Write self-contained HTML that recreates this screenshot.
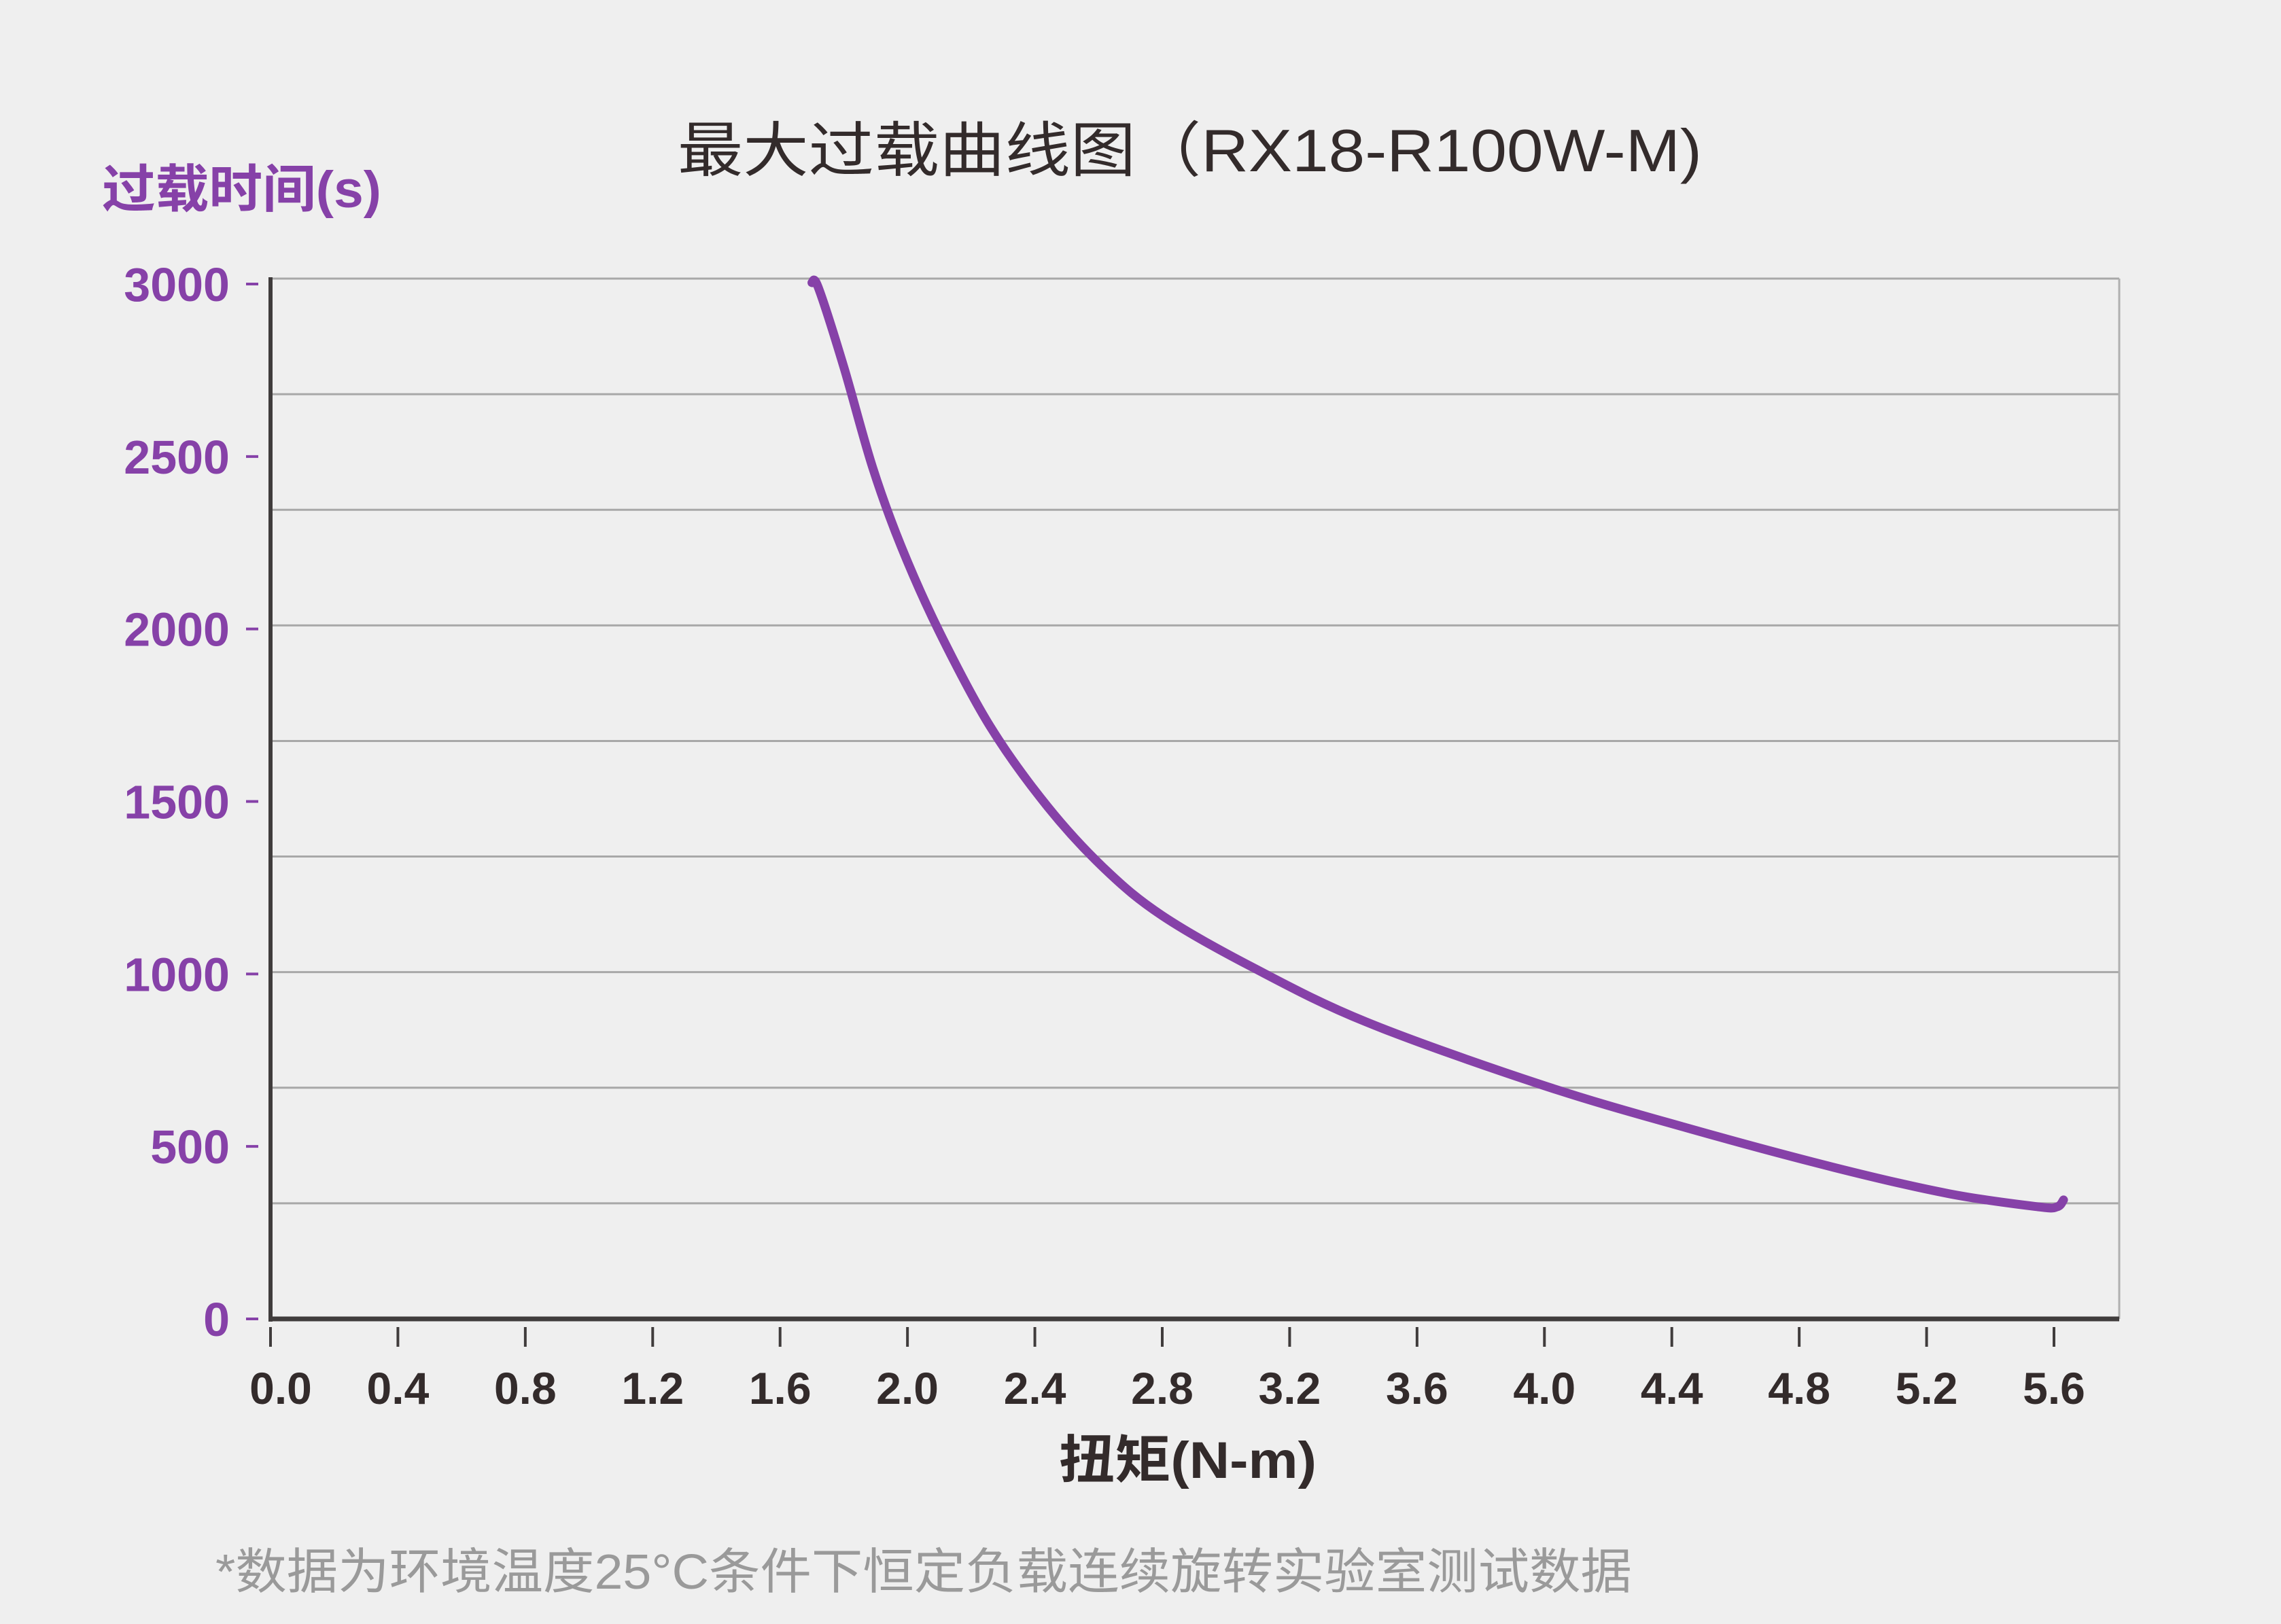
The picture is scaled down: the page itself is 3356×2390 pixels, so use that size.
<!DOCTYPE html>
<html><head><meta charset="utf-8"><style>
html,body{margin:0;padding:0;background:#efefef;}
svg{display:block;}
</style></head><body>
<svg id="chart" width="3356" height="2390" viewBox="0 0 3356 2390" xmlns="http://www.w3.org/2000/svg">
<rect width="3356" height="2390" fill="#efefef"/>
<text x="997" y="252" textLength="1507" lengthAdjust="spacingAndGlyphs" font-family="'Liberation Sans','Noto Sans CJK SC',sans-serif" font-size="88" fill="#332b2b">最大过载曲线图（RX18-R100W-M)</text>
<text x="150" y="305" textLength="411" lengthAdjust="spacingAndGlyphs" font-family="'Liberation Sans','Noto Sans CJK SC',sans-serif" font-weight="bold" font-size="76" fill="#8641a8">过载时间(s)</text>
<g id="grid"></g>
<g id="marks"></g>
<text x="1558" y="2175" textLength="379" lengthAdjust="spacingAndGlyphs" font-family="'Liberation Sans','Noto Sans CJK SC',sans-serif" font-weight="bold" font-size="76" fill="#332b2b">扭矩(N-m)</text>
<text x="317" y="2338" textLength="2084" lengthAdjust="spacingAndGlyphs" font-family="'Liberation Sans','Noto Sans CJK SC',sans-serif" font-size="72" fill="#9a9a9a">*数据为环境温度25°C条件下恒定负载连续旋转实验室测试数据</text>
</svg>
<script>
const xTicks = [0.0,0.4,0.8,1.2,1.6,2.0,2.4,2.8,3.2,3.6,4.0,4.4,4.8,5.2,5.6];
const yTicks = [0,500,1000,1500,2000,2500,3000];
const torque = [1.70,1.72,1.80,1.89,1.98,2.10,2.26,2.44,2.62,2.80,3.08,3.44,3.99,4.45,4.91,5.27,5.55,5.61,5.63];
const overloadTime = [3004,2990,2760,2470,2240,1992,1717,1485,1304,1169,1021,861,679,553,439,363,325,325,345];

const NS='http://www.w3.org/2000/svg';
const L=398,R=3118,T=410,B=1941;
const X0=398,X56=3022;
function sx(v){return X0+(v/5.6)*(X56-X0);}
function sy(v){return B-(v/3000)*(B-418);}
function mk(tag,attrs,parent){const e=document.createElementNS(NS,tag);for(const k in attrs)e.setAttribute(k,attrs[k]);parent.appendChild(e);return e;}
const grid=document.getElementById('grid');
const marks=document.getElementById('marks');
const FONT="'Liberation Sans','Noto Sans CJK SC',sans-serif";
for(let i=0;i<9;i++){
  const y=T+i*(B-T)/9;
  const g=mk('line',{x1:L,x2:R,y1:y,y2:y,stroke:'#a8a8a8','stroke-width':3},grid);
  
  
}
const rb=mk('line',{x1:R,x2:R,y1:T,y2:B,stroke:'#b0b0b0','stroke-width':3},grid);


const ya=mk('line',{x1:L,x2:L,y1:T-2,y2:B+4,stroke:'#403c3c','stroke-width':6},marks);


const xa=mk('line',{x1:L-2,x2:R,y1:B,y2:B,stroke:'#403c3c','stroke-width':7},marks);


yTicks.forEach(v=>{
  const y=sy(v);
  const t=mk('line',{x1:362,x2:380,y1:y,y2:y,stroke:'#8641a8','stroke-width':4},marks);
  
  
  const lb=mk('text',{x:338,y:y+25,'text-anchor':'end','font-family':FONT,'font-weight':'bold','font-size':70,fill:'#8641a8'},marks);
  lb.textContent=String(v);
  
  
});
xTicks.forEach(v=>{
  const x=sx(v);
  const t=mk('line',{x1:x,x2:x,y1:1953,y2:1982,stroke:'#403c3c','stroke-width':4},marks);
  
  
  const lb=mk('text',{x:x+(v===0?15:0),y:2066,'text-anchor':'middle','font-family':FONT,'font-weight':'bold','font-size':66,fill:'#332b2b'},marks);
  lb.textContent=v.toFixed(1);
  
  
});
const pts=torque.map((t,i)=>[sx(t),sy(overloadTime[i])]);
let d='M'+pts[0][0]+','+pts[0][1];
for(let i=0;i<pts.length-1;i++){
  const p0=pts[Math.max(0,i-1)],p1=pts[i],p2=pts[i+1],p3=pts[Math.min(pts.length-1,i+2)];
  const c1=[p1[0]+(p2[0]-p0[0])/6,p1[1]+(p2[1]-p0[1])/6];
  const c2=[p2[0]-(p3[0]-p1[0])/6,p2[1]-(p3[1]-p1[1])/6];
  d+=' C'+c1[0]+','+c1[1]+' '+c2[0]+','+c2[1]+' '+p2[0]+','+p2[1];
}
const curve=mk('path',{d:d,fill:'none',stroke:'#8641a8','stroke-width':13,'stroke-linejoin':'round','stroke-linecap':'round'},marks);


</script>
</body></html>
